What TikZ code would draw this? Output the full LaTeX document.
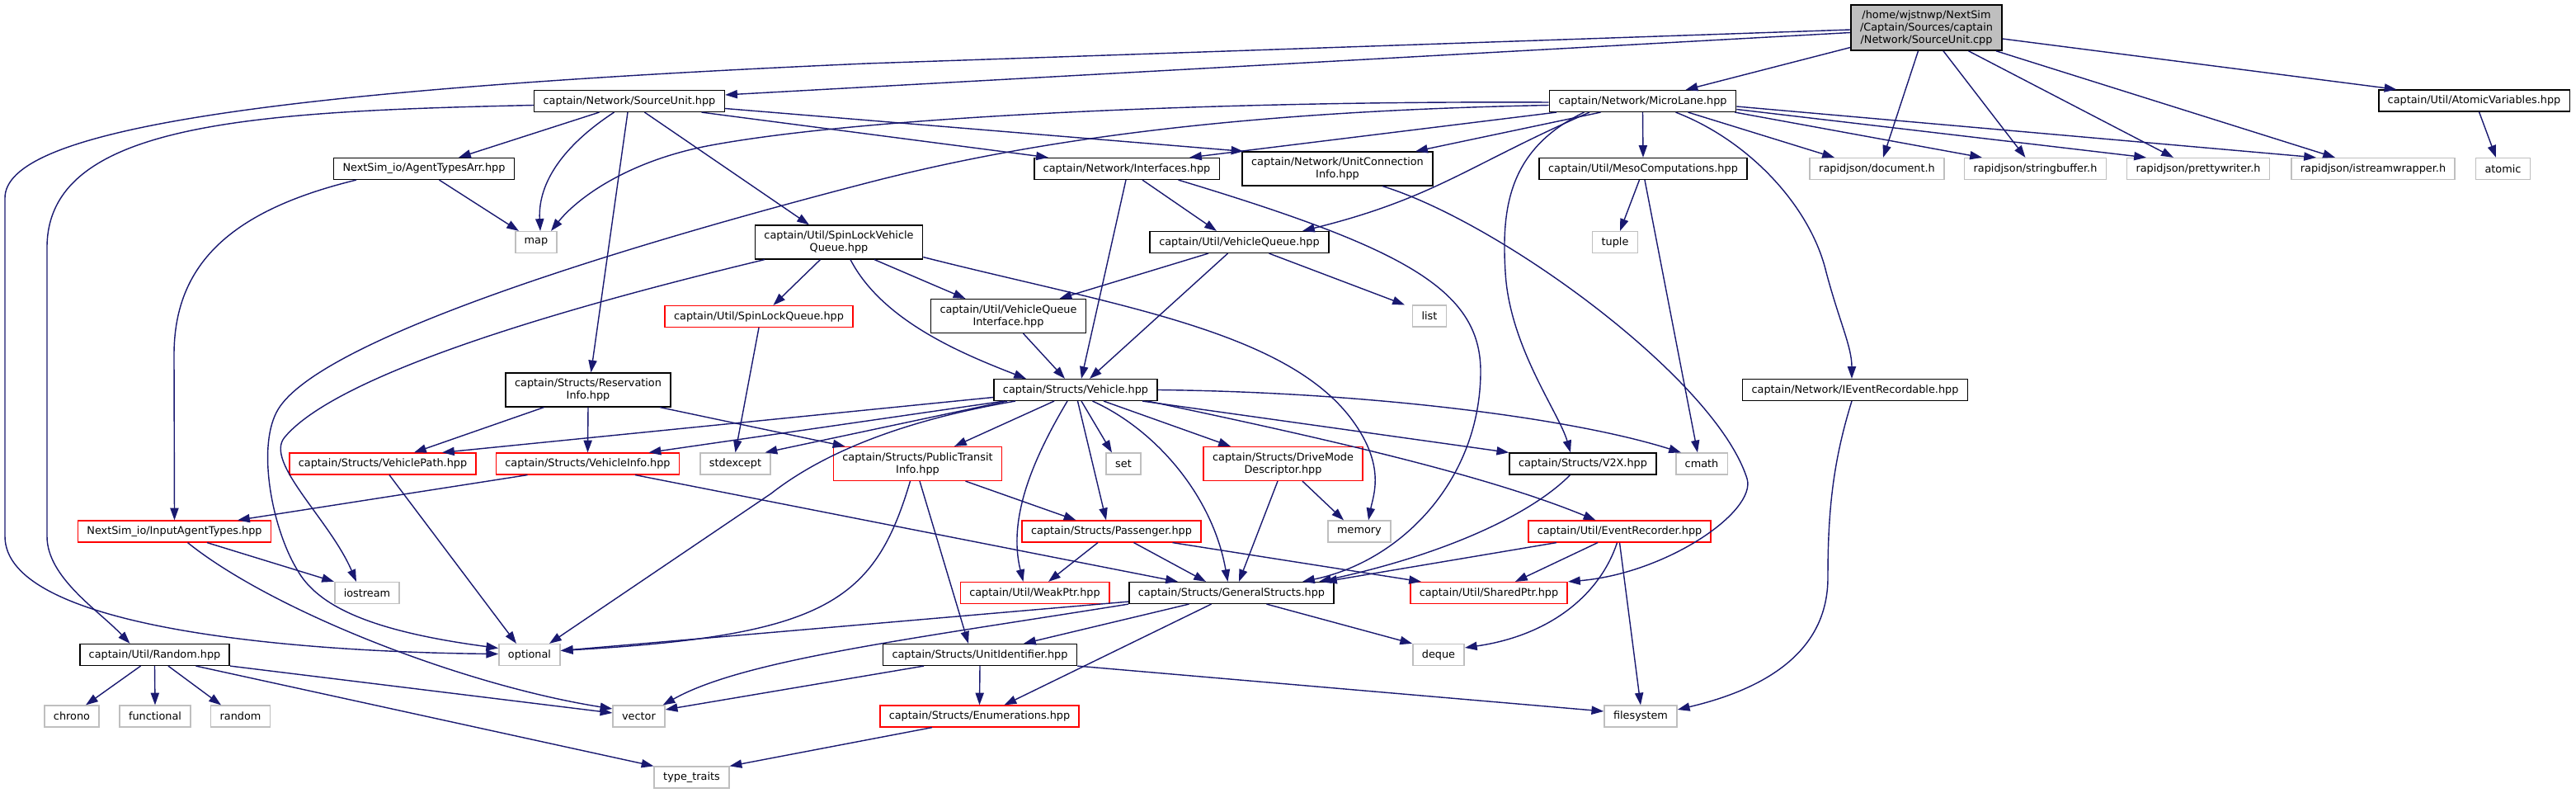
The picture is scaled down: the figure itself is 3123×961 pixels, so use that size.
\documentclass[tikz,border=0pt]{standalone}
\usepackage{fontspec}
\setmainfont{DejaVu Sans}
\usetikzlibrary{arrows.meta}
\definecolor{edgeblue}{RGB}{25,25,112}
\definecolor{sysgray} {RGB}{191,191,191}
\newcommand{\dxfont}{\fontsize{3.65}{4.27}\selectfont}

\begin{document}
\begin{tikzpicture}[
  x=0.01cm,y=-0.01cm,
  every node/.style={font=\dxfont},
  fbox/.style={draw=black,fill=white,line width=0.45pt,inner xsep=1.1mm,inner ysep=0pt,
               minimum height=2.56mm,align=center},
  rbox/.style={fbox,draw=red},
  sbox/.style={fbox,draw=sysgray},
  two/.style={minimum height=4.06mm},
  arr/.style={-{Triangle[length=4.2pt,width=2.9pt]},draw=edgeblue,line width=0.4pt},
]
\useasboundingbox (0,0) rectangle (3123,961);

%% source file and first level
\node[fbox,fill=sysgray,minimum height=5.5mm] (SRC) at (2335.5,33.5)
  {/home/wjstnwp/NextSim\\/Captain/Sources/captain\\/Network/SourceUnit.cpp};
\node[fbox] (SUh) at (763,122.5) {captain/Network/SourceUnit.hpp};
\node[fbox] (ML) at (1991.5,122.5) {captain/Network/MicroLane.hpp};
\node[fbox] (AV) at (2999.5,122) {captain/Util/AtomicVariables.hpp};

%% second level
\node[fbox] (ATA) at (514,204.5) {NextSim\_io/AgentTypesArr.hpp};
\node[fbox] (IFC) at (1366,204.5) {captain/Network/Interfaces.hpp};
\node[fbox,two] (UCI) at (1621.5,204.5) {captain/Network/UnitConnection\\Info.hpp};
\node[fbox] (MESO) at (1992,204.5) {captain/Util/MesoComputations.hpp};
\node[sbox] (rjdoc) at (2275.5,204.5) {rapidjson/document.h};
\node[sbox] (rjsb) at (2467.5,204.5) {rapidjson/stringbuffer.h};
\node[sbox] (rjpw) at (2665,204.5) {rapidjson/prettywriter.h};
\node[sbox] (rjisw) at (2877,204.5) {rapidjson/istreamwrapper.h};
\node[sbox] (atomic) at (3034.5,204.5) {atomic};

%% queues
\node[sbox] (map) at (650,293.5) {map};
\node[fbox,two] (SLVQ) at (1017,293.5) {captain/Util/SpinLockVehicle\\Queue.hpp};
\node[fbox] (VQ) at (1502.5,293.5) {captain/Util/VehicleQueue.hpp};
\node[sbox] (tuple) at (1958,293.5) {tuple};
\node[rbox] (SLQ) at (920,383.5) {captain/Util/SpinLockQueue.hpp};
\node[fbox,two] (VQI) at (1222.5,383) {captain/Util/VehicleQueue\\Interface.hpp};
\node[sbox] (list) at (1733,383) {list};

%% vehicle level
\node[fbox,two] (RESV) at (713,472.5) {captain/Structs/Reservation\\Info.hpp};
\node[fbox] (VEH) at (1304,472.5) {captain/Structs/Vehicle.hpp};
\node[fbox] (IEV) at (2249,472.5) {captain/Network/IEventRecordable.hpp};
\node[rbox] (VPATH) at (464,562) {captain/Structs/VehiclePath.hpp};
\node[rbox] (VINFO) at (712.5,562) {captain/Structs/VehicleInfo.hpp};
\node[sbox] (stdexcept) at (891.5,562) {stdexcept};
\node[rbox,two] (PTI) at (1112.5,562) {captain/Structs/PublicTransit\\Info.hpp};
\node[sbox] (set) at (1362,562) {set};
\node[rbox,two] (DMD) at (1555.5,562) {captain/Structs/DriveMode\\Descriptor.hpp};
\node[fbox] (V2X) at (1919,562) {captain/Structs/V2X.hpp};
\node[sbox] (cmath) at (2063,562) {cmath};

%% lower levels
\node[rbox] (IAT) at (211.5,644) {NextSim\_io/InputAgentTypes.hpp};
\node[rbox] (PASS) at (1347.5,644) {captain/Structs/Passenger.hpp};
\node[sbox] (memory) at (1648,644) {memory};
\node[rbox] (EVREC) at (1963.5,644) {captain/Util/EventRecorder.hpp};
\node[sbox] (iostream) at (445,718.5) {iostream};
\node[rbox] (WPTR) at (1254.5,718.5) {captain/Util/WeakPtr.hpp};
\node[fbox] (GS) at (1493,718.5) {captain/Structs/GeneralStructs.hpp};
\node[rbox] (SPTR) at (1805,718.5) {captain/Util/SharedPtr.hpp};
\node[fbox] (RND) at (187.5,793.5) {captain/Util/Random.hpp};
\node[sbox] (optional) at (642,793.5) {optional};
\node[fbox] (UID) at (1188,793.5) {captain/Structs/UnitIdentifier.hpp};
\node[sbox] (deque) at (1744,793.5) {deque};
\node[sbox] (chrono) at (87,868) {chrono};
\node[sbox] (functional) at (188,868) {functional};
\node[sbox] (random) at (291.5,868) {random};
\node[sbox] (vector) at (774.5,868) {vector};
\node[rbox] (ENUM) at (1187.5,868) {captain/Structs/Enumerations.hpp};
\node[sbox] (filesystem) at (1989,868) {filesystem};
\node[sbox] (typetraits) at (838.5,942) {type\_traits};

%% from the source file
\draw[arr] ([yshift=-0.6mm]SRC.west) -- ([yshift=0.75mm]SUh.east);
\draw[arr] ([yshift=-0.25mm]SRC.west) -- (1050,77) .. controls (300,110) and (6,160) .. (6,240)
  -- (6,650) .. controls (6,760) and (350,790) .. ([yshift=0.1mm]optional.west);
\draw[arr] ([yshift=-2.4mm]SRC.west) -- ([xshift=5.2mm]ML.north);
\draw[arr] ([xshift=-1mm]SRC.south) -- ([xshift=0.75mm]rjdoc.north);
\draw[arr] ([xshift=2.05mm]SRC.south) -- ([xshift=-1.2mm]rjsb.north);
\draw[arr] ([xshift=5.1mm]SRC.south) -- ([xshift=-3mm]rjpw.north);
\draw[arr] ([xshift=8.45mm]SRC.south) -- ([xshift=-4.6mm]rjisw.north);
\draw[arr] ([yshift=-1.35mm]SRC.east) -- ([xshift=-9.4mm]AV.north);

%% from SourceUnit.hpp
\draw[arr] ([yshift=-0.5mm]SUh.west) .. controls (300,135) and (57,150) .. (57,300)
  -- (57,650) .. controls (57,700) and (120,740) .. ([xshift=-3mm]RND.north);
\draw[arr] ([xshift=-3.65mm]SUh.south) -- ([xshift=4.2mm]ATA.north);
\draw[arr] ([xshift=-1.85mm]SUh.south) .. controls (685,175) and (652,220) .. ([xshift=0.5mm]map.north);
\draw[arr] ([xshift=-0.2mm]SUh.south) -- ([xshift=0.35mm]RESV.north);
\draw[arr] ([xshift=1.85mm]SUh.south) -- ([xshift=-3.6mm]SLVQ.north);
\draw[arr] ([xshift=8.75mm]SUh.south) -- ([xshift=-9.5mm]IFC.north);
\draw[arr] ([yshift=-0.9mm]SUh.east) -- ([xshift=0.2mm]UCI.north west);

%% from MicroLane.hpp
\draw[arr] ([yshift=-0.15mm]ML.west) .. controls (1500,122) and (1050,140) .. (857,177)
  .. controls (760,196) and (700,240) .. ([xshift=1.8mm]map.north);
\draw[arr] ([yshift=-0.5mm]ML.west) .. controls (1500,135) and (1250,170) .. (1050,222)
  .. controls (780,292) and (380,410) .. (335,500)
  .. controls (312,545) and (330,640) .. (360,690)
  .. controls (385,735) and (450,765) .. ([yshift=0.8mm]optional.west);
\draw[arr] ([xshift=-10.45mm]ML.south) -- ([xshift=7.6mm]IFC.north);
\draw[arr] ([xshift=-5.1mm]ML.south) -- ([xshift=9.45mm]UCI.north);
\draw[arr] ([xshift=-6.45mm]ML.south) .. controls (1780,200) and (1740,240) .. ([xshift=7.65mm]VQ.north);
\draw[arr] (ML.south) -- (MESO.north);
\draw[arr] ([xshift=-7.1mm]ML.south) .. controls (1830,180) and (1820,250) .. (1825,330)
  .. controls (1830,420) and (1890,500) .. ([xshift=-1.5mm]V2X.north);
\draw[arr] ([xshift=4mm]ML.south) .. controls (2120,170) and (2195,250) .. (2214,330)
  .. controls (2230,390) and (2245,420) .. ([xshift=-0.4mm]IEV.north);
\draw[arr] ([xshift=5.5mm]ML.south) -- ([xshift=-5.15mm]rjdoc.north);
\draw[arr] ([xshift=-0.2mm]ML.south east) -- ([xshift=-6.45mm]rjsb.north);
\draw[arr] ([yshift=-1mm]ML.east) -- ([xshift=-6.3mm]rjpw.north);
\draw[arr] ([yshift=-0.65mm]ML.east) -- ([xshift=-6.9mm]rjisw.north);

\draw[arr] ([xshift=0.6mm]AV.south) -- ([xshift=-0.85mm]atomic.north);

%% NextSim_io/AgentTypesArr.hpp
\draw[arr] ([xshift=1.85mm]ATA.south) -- ([xshift=-2.1mm]map.north);
\draw[arr] ([xshift=-8.2mm]ATA.south) .. controls (280,255) and (211,320) .. (211,430) -- (IAT.north);

%% Interfaces.hpp, UnitConnectionInfo.hpp, MesoComputations.hpp
\draw[arr] ([xshift=1.9mm]IFC.south) -- ([xshift=-2.75mm]VQ.north);
\draw[arr] ([xshift=-0.1mm]IFC.south) -- ([xshift=0.7mm]VEH.north);
\draw[arr] ([xshift=6.25mm]IFC.south) .. controls (1700,300) and (1795,350) .. (1795,450)
  .. controls (1795,580) and (1700,680) .. ([xshift=8.6mm]GS.north);
\draw[arr] ([xshift=5.45mm]UCI.south) .. controls (1820,270) and (2080,460) .. (2118,580)
  .. controls (2130,620) and (2020,695) .. (SPTR.north east);
\draw[arr] ([xshift=-0.45mm]MESO.south) -- ([xshift=0.6mm]tuple.north);
\draw[arr] ([xshift=0.2mm]MESO.south) -- ([xshift=-0.5mm]cmath.north);

%% queues
\draw[arr] ([xshift=-2.25mm]SLVQ.south) -- ([xshift=1.75mm]SLQ.north);
\draw[arr] ([xshift=4.3mm]SLVQ.south) -- ([xshift=-5.2mm]VQI.north);
\draw[arr] ([xshift=1.4mm]SLVQ.south) .. controls (1070,390) and (1170,430) .. ([xshift=-6mm]VEH.north);
\draw[arr] ([yshift=0.3mm]SLVQ.south east) .. controls (1350,370) and (1560,400) .. (1640,510)
  .. controls (1680,565) and (1665,600) .. ([xshift=1.1mm]memory.north);
\draw[arr] ([xshift=-9mm]SLVQ.south) .. controls (780,350) and (420,440) .. (345,530)
  .. controls (320,560) and (400,630) .. ([xshift=-1.3mm]iostream.north);
\draw[arr] ([xshift=-3.75mm]VQ.south) -- ([xshift=6.2mm]VQI.north);
\draw[arr] ([xshift=-1.4mm]VQ.south) -- ([xshift=1.7mm]VEH.north);
\draw[arr] ([xshift=3.6mm]VQ.south) -- ([xshift=-3mm]list.north);
\draw[arr] ([xshift=1.8mm]VQI.south) -- ([xshift=-1.3mm]VEH.north);
\draw[arr] (SLQ.south) -- (stdexcept.north);

%% ReservationInfo.hpp
\draw[arr] ([xshift=-5.35mm]RESV.south) -- ([xshift=3.8mm]VPATH.north);
\draw[arr] (RESV.south) -- (VINFO.north);
\draw[arr] ([xshift=8.7mm]RESV.south) -- ([xshift=-8.8mm]PTI.north);

%% Vehicle.hpp
\draw[arr] ([yshift=-0.9mm]VEH.west) -- ([xshift=7.2mm]VPATH.north);
\draw[arr] ([xshift=-8.7mm]VEH.south) -- ([xshift=7.4mm]VINFO.north);
\draw[arr] ([xshift=-8.3mm]VEH.south) -- ([xshift=3.6mm]stdexcept.north);
\draw[arr] ([xshift=-7.3mm]VEH.south) .. controls (1080,512) and (990,555) .. (935,598)
  -- ([xshift=2.4mm]optional.north);
\draw[arr] ([xshift=-2.6mm]VEH.south) -- ([xshift=4.45mm]PTI.north);
\draw[arr] ([xshift=0.7mm]VEH.south) -- ([xshift=-1.4mm]set.north);
\draw[arr] ([xshift=0.25mm]VEH.south) -- ([xshift=-0.65mm]PASS.north);
\draw[arr] ([xshift=-1mm]VEH.south) .. controls (1250,560) and (1222,630) .. ([xshift=-1.4mm]WPTR.north);
\draw[arr] ([xshift=2.05mm]VEH.south) .. controls (1400,520) and (1470,600) .. ([xshift=-0.45mm]GS.north);
\draw[arr] ([xshift=3.4mm]VEH.south) -- ([xshift=-6.35mm]DMD.north);
\draw[arr] ([xshift=8.1mm]VEH.south) -- (V2X.north west);
\draw[arr] (VEH.east) .. controls (1650,475) and (1900,505) .. ([xshift=-2.5mm]cmath.north);
\draw[arr] ([xshift=8.75mm]VEH.south) .. controls (1600,530) and (1800,575) .. ([xshift=-2.9mm]EVREC.north);

%% VehiclePath, VehicleInfo, PublicTransitInfo
\draw[arr] ([xshift=0.8mm]VPATH.south) -- ([xshift=-1.6mm]optional.north);
\draw[arr] ([xshift=-7.3mm]VINFO.south) -- ([xshift=7.65mm]IAT.north);
\draw[arr] ([xshift=5.75mm]VINFO.south) -- ([xshift=-6.5mm]GS.north);
\draw[arr] ([xshift=5.8mm]PTI.south) -- ([xshift=-4.3mm]PASS.north);
\draw[arr] ([xshift=0.25mm]PTI.south) -- ([xshift=-1.4mm]UID.north);
\draw[arr] ([xshift=-0.9mm]PTI.south) .. controls (1060,730) and (1000,770) .. ([yshift=0.5mm]optional.east);

%% DriveModeDescriptor, V2X, EventRecorder, IEventRecordable
\draw[arr] ([xshift=2.35mm]DMD.south) -- ([xshift=-1.9mm]memory.north);
\draw[arr] ([xshift=-0.65mm]DMD.south) -- ([xshift=0.9mm]GS.north);
\draw[arr] ([xshift=-1.55mm]V2X.south) .. controls (1860,620) and (1760,670) .. ([xshift=10.6mm]GS.north);
\draw[arr] ([xshift=-7.65mm]EVREC.south) -- ([xshift=11.3mm]GS.north);
\draw[arr] ([xshift=-2.65mm]EVREC.south) -- ([xshift=3.2mm]SPTR.north);
\draw[arr] ([xshift=-0.3mm]EVREC.south) .. controls (1940,720) and (1880,770) .. ([yshift=0.85mm]deque.east);
\draw[arr] (EVREC.south) -- (filesystem.north);
\draw[arr] ([xshift=-0.4mm]IEV.south) .. controls (2222,560) and (2216,620) .. (2216,700)
  .. controls (2216,790) and (2140,835) .. ([yshift=0.8mm]filesystem.east);

%% InputAgentTypes.hpp, Passenger.hpp
\draw[arr] ([xshift=3.95mm]IAT.south) -- (iostream.north west);
\draw[arr] ([xshift=1.6mm]IAT.south) .. controls (330,740) and (560,830) .. ([yshift=0.9mm]vector.west);
\draw[arr] ([xshift=-1.65mm]PASS.south) -- ([xshift=1.65mm]WPTR.north);
\draw[arr] ([xshift=2.7mm]PASS.south) -- ([xshift=-3.1mm]GS.north);
\draw[arr] ([xshift=7.4mm]PASS.south) -- ([xshift=-8.2mm]SPTR.north);

%% GeneralStructs.hpp
\draw[arr] ([yshift=0.3mm]GS.south west) -- ([yshift=0.5mm]optional.east);
\draw[arr] (GS.south west) .. controls (1100,775) and (900,800) .. ([xshift=-0.3mm]vector.north east);
\draw[arr] ([xshift=-5.15mm]GS.south) -- ([xshift=5.3mm]UID.north);
\draw[arr] ([xshift=-2.45mm]GS.south) -- ([xshift=3mm]ENUM.north);
\draw[arr] ([xshift=4.25mm]GS.south) -- (deque.north west);

%% UnitIdentifier, Enumerations, Random
\draw[arr] ([xshift=-6.8mm]UID.south) -- ([yshift=0.8mm]vector.east);
\draw[arr] (UID.south) -- (ENUM.north);
\draw[arr] (UID.south east) -- ([yshift=0.6mm]filesystem.west);
\draw[arr] ([xshift=-5.75mm]ENUM.south) -- (typetraits.north east);
\draw[arr] ([xshift=-1.7mm]RND.south) -- ([xshift=1.7mm]chrono.north);
\draw[arr] (RND.south) -- (functional.north);
\draw[arr] ([xshift=1.65mm]RND.south) -- ([xshift=-2.35mm]random.north);
\draw[arr] (RND.south east) -- ([yshift=0.4mm]vector.west);
\draw[arr] ([xshift=5mm]RND.south) -- (typetraits.north west);

\end{tikzpicture}
\end{document}
